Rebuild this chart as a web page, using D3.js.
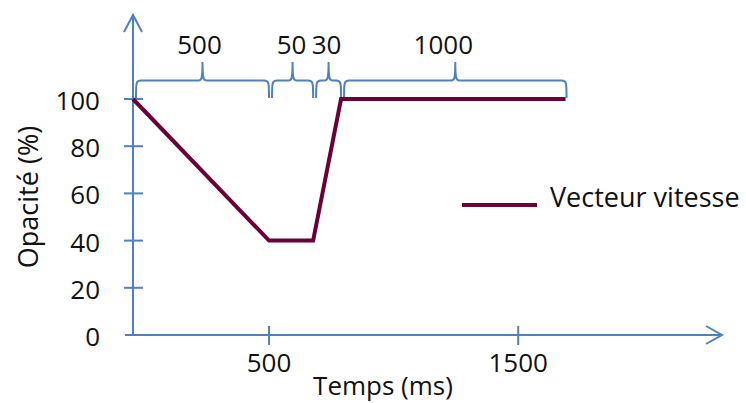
<!DOCTYPE html>
<html>
<head>
<meta charset="utf-8">
<script src="https://cdn.jsdelivr.net/npm/d3@7"></script>
<style>
  body { margin: 0; background: #fff; }
  text { font-family: "Open Sans", "Noto Sans", sans-serif; fill: #111; }
</style>
</head>
<body>
<div id="graf"></div>
<script>
// donnees
const temps = [-46, 500, 677, 789, 1690];
const opacite = [100, 40, 40, 100, 100];
const durees = ["500", "50", "30", "1000"];
const yTicks = [0, 20, 40, 60, 80, 100];
const xTicks = [500, 1500];
const serie = "Vecteur vitesse";

const anchoTotal = 746, altoTotal = 403;
const azul = "#4f81bd", vino = "#6b0039";
const fs = 26;

const svg = d3.select("#graf").append("svg")
  .attr("width", anchoTotal)
  .attr("height", altoTotal);

// Escaladores
const x = d3.scaleLinear().domain([-46, 2330]).range([133, 725]);
const y = d3.scaleLinear().domain([0, 100]).range([335, 99]);
const x0 = x(-46);

// Ejes
const ejes = svg.append("g").attr("stroke", azul).attr("stroke-width", 2).attr("fill", "none");
ejes.append("line").attr("x1", x0).attr("x2", x0).attr("y1", y(0)).attr("y2", 15);
ejes.append("path").attr("d", `M${x0 - 9},32 L${x0},15 L${x0 + 9},32`);
ejes.append("line").attr("x1", 125).attr("x2", 722).attr("y1", y(0)).attr("y2", y(0));
ejes.append("path").attr("d", `M706,326 L722,${y(0)} L706,344`);

ejes.selectAll(".ty").data(yTicks.slice(1)).join("line")
  .attr("x1", x0 - 9).attr("x2", x0 + 10)
  .attr("y1", d => y(d)).attr("y2", d => y(d));
ejes.selectAll(".tx").data(xTicks).join("line")
  .attr("x1", d => x(d)).attr("x2", d => x(d))
  .attr("y1", y(0) - 9).attr("y2", y(0) + 10);

// etiquetas de ejes
svg.selectAll(".ly").data(yTicks).join("text")
  .attr("x", 100).attr("y", d => y(d) + 11)
  .attr("text-anchor", "end").attr("font-size", fs)
  .text(d => d);
svg.selectAll(".lx").data(xTicks).join("text")
  .attr("x", d => x(d)).attr("y", 372)
  .attr("text-anchor", "middle").attr("font-size", fs)
  .text(d => d);

svg.append("text")
  .attr("x", 383).attr("y", 395)
  .attr("text-anchor", "middle").attr("font-size", fs)
  .text("Temps (ms)");
svg.append("text")
  .attr("transform", "translate(38,197) rotate(-90)")
  .attr("text-anchor", "middle").attr("font-size", fs + 1)
  .text("Opacité (%)");

// llaves (accolades) sobre cada segmento
const llaves = d3.pairs(temps).map((p, i) => ({ a: x(p[0]) + 3, b: x(p[1]) - (i === 3 ? -1 : 0), label: durees[i] }));
const yTop = 80.5, yEnd = 98, yCusp = 62;
const llaveG = svg.append("g");
llaveG.selectAll("path").data(llaves).join("path")
  .attr("fill", "none").attr("stroke", azul).attr("stroke-width", 2)
  .attr("d", d => {
    const m = (d.a + d.b) / 2;
    return `M${d.a},${yEnd} C${d.a},${yTop + 2} ${d.a},${yTop} ${d.a + 5},${yTop}` +
      ` L${m - 4},${yTop} C${m - 1},${yTop} ${m},${yTop - 2} ${m},${yCusp}` +
      ` C${m},${yTop - 2} ${m + 1},${yTop} ${m + 4},${yTop}` +
      ` L${d.b - 5},${yTop} C${d.b},${yTop} ${d.b},${yTop + 2} ${d.b},${yEnd}`;
  });
llaveG.selectAll("text").data(llaves).join("text")
  .attr("x", (d, i) => (d.a + d.b) / 2 + [-3, -1, -2, -12][i])
  .attr("y", 54)
  .attr("text-anchor", "middle").attr("font-size", fs)
  .text(d => d.label);

// linea
const datos = temps.map((t, i) => ({ t, o: opacite[i] }));
svg.append("path").datum(datos)
  .attr("fill", "none").attr("stroke", vino).attr("stroke-width", 4)
  .attr("stroke-linejoin", "miter")
  .attr("d", d3.line().x(d => x(d.t)).y(d => y(d.o)));

// leyenda
svg.append("line")
  .attr("x1", 462).attr("x2", 537).attr("y1", 205).attr("y2", 205)
  .attr("stroke", vino).attr("stroke-width", 4);
svg.append("text")
  .attr("x", 550).attr("y", 207).attr("font-size", 27)
  .text(serie);
</script>
</body>
</html>
